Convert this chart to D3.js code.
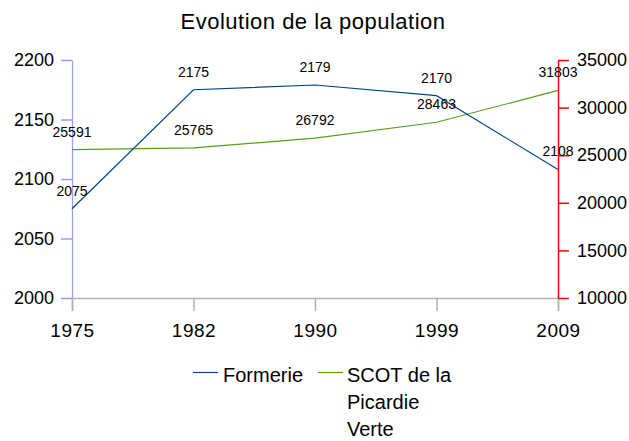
<!DOCTYPE html>
<html><head><meta charset="utf-8">
<script src="https://cdn.jsdelivr.net/npm/d3@7"></script>
<style>body{margin:0;background:#fff}svg{display:block;font-family:"Liberation Sans",Arial,sans-serif}</style>
</head><body><svg id="c" width="629" height="441"></svg>
<script>
const years = ["1975","1982","1990","1999","2009"];
const formerie = [2075, 2175, 2179, 2170, 2108];
const scot = [25591, 25765, 26792, 28463, 31803];
const leftTicks = [2000, 2050, 2100, 2150, 2200];
const rightTicks = [10000, 15000, 20000, 25000, 30000, 35000];
const title = "Evolution de la population";

const svg = d3.select("#c");
const x = d3.scalePoint().domain(years).range([72, 558]);
const yL = d3.scaleLinear().domain([2000, 2200]).range([298, 60]);
const yR = d3.scaleLinear().domain([10000, 35000]).range([298, 60]);
const FF = "Liberation Sans, Arial, sans-serif";

svg.append("text").attr("x", 313).attr("y", 28.5).attr("text-anchor", "middle")
  .attr("font-size", 22).attr("letter-spacing", 0.5).attr("fill", "#000").text(title);

// bottom axis
const xa = svg.append("g").attr("transform", "translate(0,298)")
  .call(d3.axisBottom(x).tickSize(13).tickPadding(13));
xa.select(".domain").attr("stroke", "#b3b3b3").attr("stroke-width", 1.5);
xa.selectAll(".tick line").attr("stroke", "#b3b3b3").attr("stroke-width", 1.5);
xa.selectAll(".tick text").attr("font-size", 19).attr("letter-spacing", 0.5).attr("fill", "#000").attr("font-family", FF);

// left axis
const la = svg.append("g").attr("transform", "translate(72,0)")
  .call(d3.axisLeft(yL).tickValues(leftTicks).tickSize(11).tickPadding(7).tickSizeOuter(0).tickFormat(d3.format("d")));
la.select(".domain").attr("stroke", "#9999ff").attr("stroke-width", 1.2);
la.selectAll(".tick line").attr("stroke", "#9999ff").attr("stroke-width", 1.5);
la.selectAll(".tick text").attr("font-size", 18).attr("fill", "#000").attr("font-family", FF);

// right axis
const ra = svg.append("g").attr("transform", "translate(558,0)")
  .call(d3.axisRight(yR).tickValues(rightTicks).tickSize(11).tickPadding(8).tickSizeOuter(0).tickFormat(d3.format("d")));
ra.select(".domain").attr("stroke", "#ff0000").attr("stroke-width", 1.5);
ra.selectAll(".tick line").attr("stroke", "#ff0000").attr("stroke-width", 1.5);
ra.selectAll(".tick text").attr("font-size", 18).attr("fill", "#000").attr("font-family", FF);

// series
const lineL = d3.line().x((d, i) => x(years[i])).y(d => yL(d));
const lineR = d3.line().x((d, i) => x(years[i])).y(d => yR(d));
svg.append("path").datum(scot).attr("d", lineR).attr("fill", "none").attr("stroke", "#579d1c").attr("stroke-width", 1.2);
svg.append("path").datum(formerie).attr("d", lineL).attr("fill", "none").attr("stroke", "#004586").attr("stroke-width", 1.2);

// labels
svg.append("g").selectAll("text").data(formerie).join("text")
  .attr("x", (d, i) => x(years[i])).attr("y", d => yL(d) - 13)
  .attr("text-anchor", "middle").attr("font-size", 14).attr("fill", "#000").text(d => d);
svg.append("g").selectAll("text").data(scot).join("text")
  .attr("x", (d, i) => x(years[i])).attr("y", d => yR(d) - 13)
  .attr("text-anchor", "middle").attr("font-size", 14).attr("fill", "#000").text(d => d);

// legend
const lg = svg.append("g");
lg.append("line").attr("x1", 193).attr("x2", 218).attr("y1", 372.5).attr("y2", 372.5).attr("stroke", "#004586").attr("stroke-width", 1.2);
lg.append("text").attr("x", 223).attr("y", 382).attr("font-size", 20).text("Formerie");
lg.append("line").attr("x1", 318).attr("x2", 343).attr("y1", 372.5).attr("y2", 372.5).attr("stroke", "#579d1c").attr("stroke-width", 1.2);
const lt = lg.append("text").attr("x", 347).attr("y", 382).attr("font-size", 20);
["SCOT de la", "Picardie", "Verte"].forEach((s, i) => lt.append("tspan").attr("x", 347).attr("dy", i ? 27 : 0).text(s));
</script></body></html>
